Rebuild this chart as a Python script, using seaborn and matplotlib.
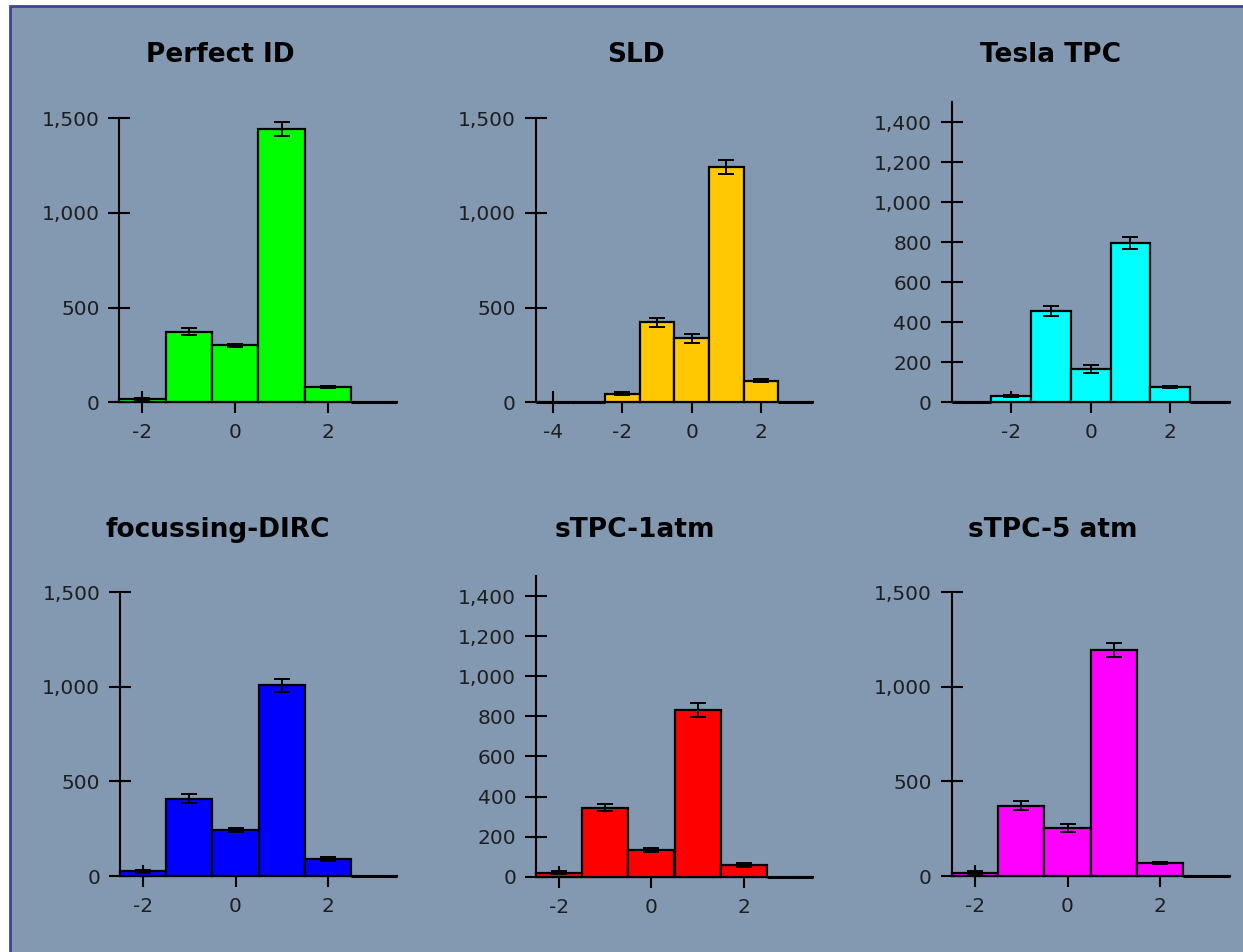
import matplotlib
matplotlib.use("Agg")
import matplotlib.pyplot as plt
import seaborn as sns
import pandas as pd
from matplotlib.patches import Rectangle
from matplotlib.ticker import StrMethodFormatter, FixedLocator

# ---- data: event counts per bin with statistical errors ----
titles = ["Perfect ID", "SLD", "Tesla TPC", "focussing-DIRC", "sTPC-1atm", "sTPC-5 atm"]
colors = ["#00ff00", "#ffc800", "#00ffff", "#0000ff", "#ff0000", "#ff00ff"]

bins_perfect = [-2, -1, 0, 1, 2, 3]
counts_perfect = [15, 373, 302, 1442, 79, 0]
errs_perfect = [8, 18, 8, 38, 6, 0]

bins_sld = [-4, -3, -2, -1, 0, 1, 2, 3]
counts_sld = [0, 0, 44, 422, 338, 1241, 114, 0]
errs_sld = [0, 0, 8, 24, 24, 37, 8, 0]

bins_tesla = [-3, -2, -1, 0, 1, 2, 3]
counts_tesla = [0, 31, 456, 165, 798, 75, 0]
errs_tesla = [0, 5, 24, 20, 30, 5, 0]

bins_dirc = [-2, -1, 0, 1, 2, 3]
counts_dirc = [25, 409, 245, 1008, 91, 0]
errs_dirc = [7, 25, 10, 33, 12, 0]

bins_stpc1 = [-2, -1, 0, 1, 2, 3]
counts_stpc1 = [20, 344, 133, 832, 57, 0]
errs_stpc1 = [8, 18, 10, 35, 10, 0]

bins_stpc5 = [-2, -1, 0, 1, 2, 3]
counts_stpc5 = [18, 372, 255, 1196, 67, 0]
errs_stpc5 = [6, 25, 20, 37, 5, 0]

yticks_500 = [0, 500, 1000, 1500]
yticks_200 = [0, 200, 400, 600, 800, 1000, 1200, 1400]

panels = [
    (bins_perfect, counts_perfect, errs_perfect, yticks_500, [-2, 0, 2], (-2.5, 3.5)),
    (bins_sld, counts_sld, errs_sld, yticks_500, [-4, -2, 0, 2], (-4.5, 3.5)),
    (bins_tesla, counts_tesla, errs_tesla, yticks_200, [-2, 0, 2], (-3.5, 3.5)),
    (bins_dirc, counts_dirc, errs_dirc, yticks_500, [-2, 0, 2], (-2.5, 3.5)),
    (bins_stpc1, counts_stpc1, errs_stpc1, yticks_200, [-2, 0, 2], (-2.5, 3.5)),
    (bins_stpc5, counts_stpc5, errs_stpc5, yticks_500, [-2, 0, 2], (-2.5, 3.5)),
]

# ---- layout (pixels: left, right, top, bottom) ----
W, H = 1243, 952
boxes = [
    (119.3, 397.4, 118.3, 402.3),
    (535.7, 813.0, 118.3, 402.3),
    (951.7, 1229.7, 102.3, 402.3),
    (120.0, 397.3, 592.3, 876.0),
    (536.0, 813.0, 576.0, 876.7),
    (951.7, 1229.7, 592.3, 876.0),
]
title_pos = [(220, 55), (636, 55), (1051, 55), (218, 530), (635, 530), (1053, 530)]

BG = "#8399b2"
FRAME = "#3c4596"
TXT = "#1e1e1e"

sns.set_style("ticks")
plt.rcParams["font.family"] = ["DejaVu Sans"]
plt.rcParams["axes.unicode_minus"] = False

fig = plt.figure(figsize=(W / 100, H / 100), dpi=100, facecolor="white")
fig.patches.append(Rectangle((10.5 / W, -0.02), 1.1, (H - 6.5) / H + 0.02,
                             transform=fig.transFigure, facecolor=BG,
                             edgecolor=FRAME, linewidth=2.0, zorder=-10))

for (bins, counts, errs, yt, xt, xl), color, (l, r, t, b), title, (tx, ty) in zip(
        panels, colors, boxes, titles, title_pos):
    ax = fig.add_axes([l / W, 1 - b / H, (r - l) / W, (b - t) / H])
    ax.patch.set_alpha(0)
    df = pd.DataFrame({"bin": bins, "count": counts})
    sns.barplot(data=df, x="bin", y="count", native_scale=True, width=1,
                color=color, saturation=1, edgecolor="black", linewidth=1.6,
                errorbar=None, ax=ax, zorder=2)
    for p in ax.patches:
        p.set_clip_on(False)
        if p.get_height() == 0:
            p.set_linewidth(2.2)
    eb = [(x, y, e) for x, y, e in zip(bins, counts, errs) if e > 0]
    ax.errorbar([v[0] for v in eb], [v[1] for v in eb], yerr=[v[2] for v in eb],
                fmt="none", ecolor="black", elinewidth=1.4, capsize=5.5,
                capthick=1.4, zorder=3)

    ax.set_xlim(*xl)
    ax.set_ylim(0, 1500)
    ax.xaxis.set_major_locator(FixedLocator(xt))
    ax.yaxis.set_major_locator(FixedLocator(yt))
    ax.yaxis.set_major_formatter(StrMethodFormatter("{x:,.0f}"))
    ax.set_xlabel("")
    ax.set_ylabel("")

    for side in ("top", "right"):
        ax.spines[side].set_visible(False)
    for side in ("left", "bottom"):
        ax.spines[side].set_linewidth(1.5)
        ax.spines[side].set_color("black")
        ax.spines[side].set_zorder(1)
    ax.spines["left"].set_bounds(0, 1500)

    ax.tick_params(axis="y", direction="inout", length=16.5, width=1.5,
                   labelsize=14.5, pad=6, colors="black", labelcolor=TXT)
    ax.tick_params(axis="x", direction="out", length=8, width=1.5,
                   labelsize=14.5, pad=7, colors="black", labelcolor=TXT)
    # first x tick is drawn across the axis line
    first = ax.xaxis.get_major_ticks()[0]
    first.tick1line.set_marker("|")
    first.tick1line.set_markersize(16.5)

    fig.text(tx / W, 1 - ty / H, title, ha="center", va="center",
             fontsize=19, fontweight="bold", color="black")

fig.savefig("out.png", dpi=100, facecolor="white")
